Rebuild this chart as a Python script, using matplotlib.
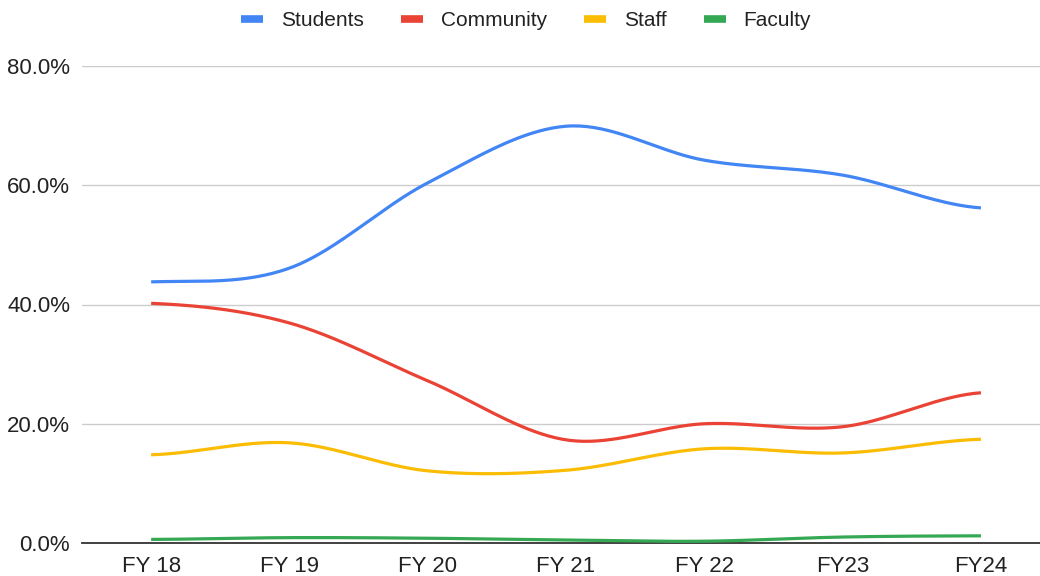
import numpy as np
import matplotlib
matplotlib.use("Agg")
import matplotlib.pyplot as plt
from matplotlib.lines import Line2D

plt.rcParams['font.family'] = ['Liberation Sans', 'DejaVu Sans']

categories = ["FY 18", "FY 19", "FY 20", "FY 21", "FY 22", "FY23", "FY24"]
students = [43.8, 46.1, 60.4, 69.9, 64.2, 61.7, 56.2]
community = [40.2, 36.9, 27.2, 17.3, 20.0, 19.5, 25.2]
staff = [14.8, 16.8, 12.1, 12.2, 15.8, 15.1, 17.4]
faculty = [0.6, 0.9, 0.8, 0.5, 0.3, 1.0, 1.2]

series = [("Students", students, "#4285F4"),
          ("Community", community, "#EA4335"),
          ("Staff", staff, "#FBBC04"),
          ("Faculty", faculty, "#34A853")]

def smooth(xs, ys, n=40):
    xs = np.asarray(xs, float); ys = np.asarray(ys, float)
    m = np.zeros_like(ys)
    for i in range(len(ys)):
        if i == 0:
            m[i] = (ys[1] - ys[0]) * 0.3
        elif i == len(ys) - 1:
            m[i] = (ys[-1] - ys[-2]) * 0.3
        else:
            m[i] = (ys[i + 1] - ys[i - 1]) / 2
    ox, oy = [], []
    for i in range(len(ys) - 1):
        t = np.linspace(0, 1, n, endpoint=(i == len(ys) - 2))
        h00 = 2*t**3 - 3*t**2 + 1
        h10 = t**3 - 2*t**2 + t
        h01 = -2*t**3 + 3*t**2
        h11 = t**3 - t**2
        ox.extend(xs[i] + t * (xs[i+1] - xs[i]))
        oy.extend(h00*ys[i] + h10*m[i] + h01*ys[i+1] + h11*m[i+1])
    return np.array(ox), np.array(oy)

W, H = 1040, 576
fig = plt.figure(figsize=(W/100, H/100), dpi=100)
ax = fig.add_axes([82/W, 1 - 543/H, (W - 82)/W, (543 - 66)/H])

x = np.arange(len(categories))
for name, vals, col in series:
    sx, sy = smooth(x, vals)
    ax.plot(sx, sy, color=col, lw=2.3, solid_capstyle='butt', clip_on=False, zorder=3)

spacing = 138.3
ax.set_xlim(-0.5, -0.5 + (W - 82) / spacing)
ax.set_ylim(0, 80)
ax.set_yticks([0, 20, 40, 60, 80])
ax.set_yticklabels([f"{v:.1f}%" for v in [0, 20, 40, 60, 80]])
ax.set_xticks(x)
ax.set_xticklabels(categories)
ax.grid(axis='y', color='#cccccc', lw=1)
ax.set_axisbelow(True)
for s in ['top', 'right', 'left']:
    ax.spines[s].set_visible(False)
ax.spines['bottom'].set_color('#333333')
ax.spines['bottom'].set_linewidth(1.3)
ax.spines['bottom'].set_zorder(2)
ax.tick_params(axis='both', length=0, labelsize=16, colors='#222222')
ax.tick_params(axis='y', pad=8.5)
ax.tick_params(axis='x', pad=9)

handles = [Line2D([0], [0], color=c, lw=5.5, solid_capstyle='butt') for _, _, c in series]
fig.legend(handles, [s[0] for s in series], loc='center', bbox_to_anchor=(526/W, 1 - 21/H),
           ncol=4, frameon=False, fontsize=15, handlelength=1.05, handletextpad=0.85,
           columnspacing=1.8, labelcolor='#222222')

fig.savefig("out.png", dpi=100)
